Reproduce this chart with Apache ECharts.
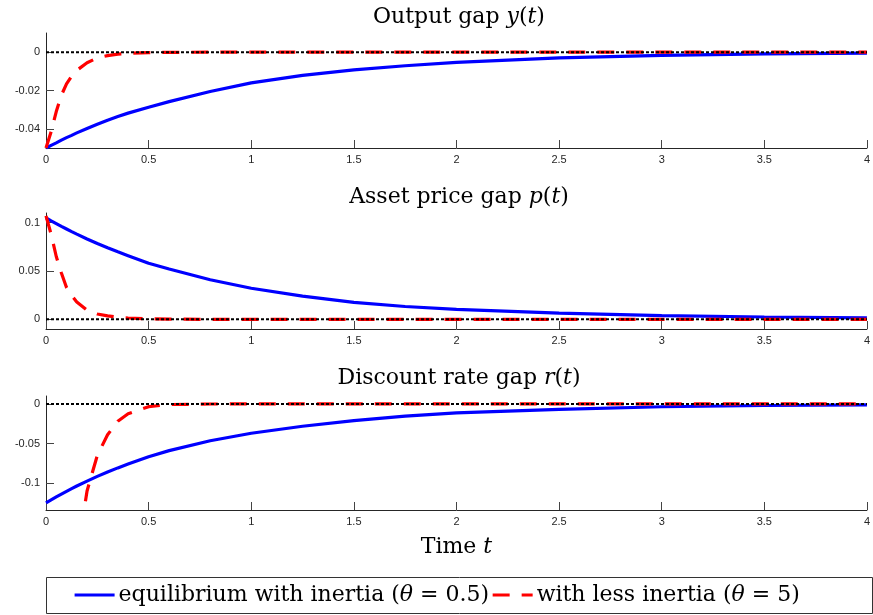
<!DOCTYPE html>
<html>
<head>
    <meta charset="utf-8">
    <title>gaps</title>
    <style>
        body { margin: 0; background: #fff; }
    </style>
</head>
<body>
<div id="echarts1" style="height: 615px; width: 873px;"></div>
<script src="https://cdn.jsdelivr.net/npm/echarts@6/dist/echarts.min.js"></script>
<script>
    // time grid shared by all curves
    var tVals = [0, 0.025, 0.05, 0.075, 0.1, 0.125, 0.15, 0.2, 0.25, 0.3, 0.35, 0.4, 0.5, 0.6, 0.8, 1.0, 1.25, 1.5, 1.75, 2.0, 2.5, 3.0, 3.5, 4.0];

    // output gap y(t)
    var outputEq = [-0.0500, -0.0486, -0.0473, -0.0459, -0.0446, -0.0434, -0.0421, -0.0398, -0.0376, -0.0355, -0.0336, -0.0318, -0.0287, -0.0258, -0.0205, -0.0160, -0.0121, -0.0092, -0.0071, -0.0053, -0.0030, -0.0017, -0.0009, -0.0005];
    var outputLess = [-0.0500, -0.0415, -0.0310, -0.0225, -0.0165, -0.0125, -0.0095, -0.0055, -0.0030, -0.0018, -0.0010, -0.0006, -0.0002, -0.0001, 0, 0, 0, 0, 0, 0, 0, 0, 0, 0];

    // asset price gap p(t)
    var assetEq = [0.1050, 0.1019, 0.0990, 0.0961, 0.0934, 0.0907, 0.0881, 0.0831, 0.0784, 0.0740, 0.0698, 0.0659, 0.0580, 0.0520, 0.0410, 0.0322, 0.0240, 0.0176, 0.0133, 0.0103, 0.0064, 0.0039, 0.0024, 0.0015];
    var assetLess = [0.1070, 0.0880, 0.0650, 0.0480, 0.0330, 0.0245, 0.0180, 0.0094, 0.0055, 0.0036, 0.0022, 0.0014, 0.0006, 0.0002, 0, 0, 0, 0, 0, 0, 0, 0, 0, 0];

    // discount rate gap r(t)
    var rateEq = [-0.1250, -0.1212, -0.1175, -0.1139, -0.1104, -0.1070, -0.1037, -0.0975, -0.0915, -0.0860, -0.0808, -0.0759, -0.0667, -0.0590, -0.0465, -0.0371, -0.0282, -0.0211, -0.0155, -0.0113, -0.0068, -0.0036, -0.0020, -0.0011];
    var rateLess = [-1.00, -0.76, -0.58, -0.44, -0.335, -0.255, -0.192, -0.110, -0.065, -0.039, -0.022, -0.0125, -0.0035, -0.0008, -0.0001, 0, 0, 0, 0, 0, 0, 0, 0, 0];

    // zero reference line
    var zeroT = [0, 4];
    var zeroVals = [0, 0];

    // y tick values per panel
    var outputTicks = [-0.04, -0.02, 0];
    var assetTicks = [0, 0.05, 0.1];
    var rateTicks = [-0.1, -0.05, 0];

    var nameEq = 'equilibrium with inertia (θ = 0.5)';
    var nameLess = 'with less inertia (θ = 5)';

    var serif = 'DejaVu Serif';
    var richText = {
        n: {fontFamily: serif, fontSize: 22, fontWeight: 'normal', color: '#000'},
        i: {fontFamily: serif, fontSize: 22, fontWeight: 'normal', fontStyle: 'italic', color: '#000'}
    };
    var axisColor = '#262626';

    function pairs(ts, vs) {
        return ts.map(function (t, i) { return [t, vs[i]]; });
    }

    function makeX(idx, withName) {
        var ax = {
            type: 'value',
            gridIndex: idx,
            min: 0,
            max: 4,
            interval: 0.5,
            axisLine: {onZero: false, lineStyle: {color: axisColor, width: 1}},
            axisTick: {inside: true, length: 8, lineStyle: {color: '#444'}},
            axisLabel: {color: '#262626', fontSize: 11, fontFamily: 'Liberation Sans', margin: 6},
            splitLine: {show: false}
        };
        if (withName) {
            ax.name = '{n|Time }{i|t}';
            ax.nameLocation = 'middle';
            ax.nameGap = 26;
            ax.nameTextStyle = {rich: richText};
        }
        return ax;
    }

    function makeY(idx, lo, hi, ticks) {
        return {
            type: 'value',
            gridIndex: idx,
            min: lo,
            max: hi,
            axisLine: {show: true, onZero: false, lineStyle: {color: axisColor, width: 1}},
            axisTick: {show: true, inside: true, length: 8, customValues: ticks, lineStyle: {color: '#444', width: 1}},
            axisLabel: {color: '#262626', fontSize: 11, fontFamily: 'Liberation Sans', margin: 6, customValues: ticks},
            splitLine: {show: false}
        };
    }

    function eqSeries(idx, vals, withName) {
        return {
            name: withName ? nameEq : 'eq' + idx,
            type: 'line',
            xAxisIndex: idx,
            yAxisIndex: idx,
            data: pairs(tVals, vals),
            symbol: 'none',
            lineStyle: {color: '#0000ff', width: 3.2},
            itemStyle: {color: '#0000ff', opacity: 0},
            z: 2
        };
    }

    function lessSeries(idx, vals, withName) {
        return {
            name: withName ? nameLess : 'less' + idx,
            type: 'line',
            xAxisIndex: idx,
            yAxisIndex: idx,
            data: pairs(tVals, vals),
            symbol: 'none',
            lineStyle: {color: '#ff0000', width: 3.2, type: [17, 12]},
            itemStyle: {color: '#ff0000', opacity: 0},
            z: 3
        };
    }

    function zeroSeries(idx) {
        return {
            name: 'zero' + idx,
            type: 'line',
            xAxisIndex: idx,
            yAxisIndex: idx,
            data: pairs(zeroT, zeroVals),
            symbol: 'none',
            silent: true,
            lineStyle: {color: '#000', width: 2, type: [3, 2]},
            z: 4
        };
    }

    function makeTitle(text, top) {
        return {
            text: text,
            left: 459,
            top: top,
            textAlign: 'center',
            padding: 0,
            textStyle: {fontWeight: 'normal', rich: richText}
        };
    }

    var Myecharts1 = echarts.init(document.getElementById('echarts1'), null, {renderer: 'canvas'});
    var option1 = {
        animation: false,
        backgroundColor: '#fff',
        title: [
            makeTitle('{n|Output gap }{i|y}{n|(}{i|t}{n|)}', 6),
            makeTitle('{n|Asset price gap }{i|p}{n|(}{i|t}{n|)}', 186),
            makeTitle('{n|Discount rate gap }{i|r}{n|(}{i|t}{n|)}', 367)
        ],
        graphic: [
            {
                type: 'rect',
                left: 46,
                top: 577,
                shape: {width: 826, height: 36},
                style: {fill: '#fff', stroke: '#333', lineWidth: 1},
                z: 0
            }
        ],
        legend: {
            data: [nameEq, nameLess],
            left: 73,
            top: 584,
            padding: 0,
            itemWidth: 40,
            itemHeight: 6,
            itemGap: 2,
            itemStyle: {opacity: 0},
            lineStyle: {width: 3.2},
            formatter: function (name) {
                if (name === nameEq) {
                    return '{n|equilibrium with inertia (}{i|θ}{n| = 0.5)}';
                }
                return '{n|with less inertia (}{i|θ}{n| = 5)}';
            },
            textStyle: {rich: richText, padding: [0, 0, 0, -1]},
            z: 5
        },
        grid: [
            {left: 46, top: 33, width: 826, height: 115},
            {left: 46, top: 213, width: 826, height: 116},
            {left: 46, top: 396, width: 826, height: 114}
        ],
        xAxis: [makeX(0, false), makeX(1, false), makeX(2, true)],
        yAxis: [
            makeY(0, -0.05, 0.01, outputTicks),
            makeY(1, -0.01, 0.11, assetTicks),
            makeY(2, -0.134, 0.01, rateTicks)
        ],
        series: [
            eqSeries(0, outputEq, true), lessSeries(0, outputLess, true), zeroSeries(0),
            eqSeries(1, assetEq, false), lessSeries(1, assetLess, false), zeroSeries(1),
            eqSeries(2, rateEq, false), lessSeries(2, rateLess, false), zeroSeries(2)
        ]
    };
    Myecharts1.setOption(option1);
</script>
</body>
</html>
